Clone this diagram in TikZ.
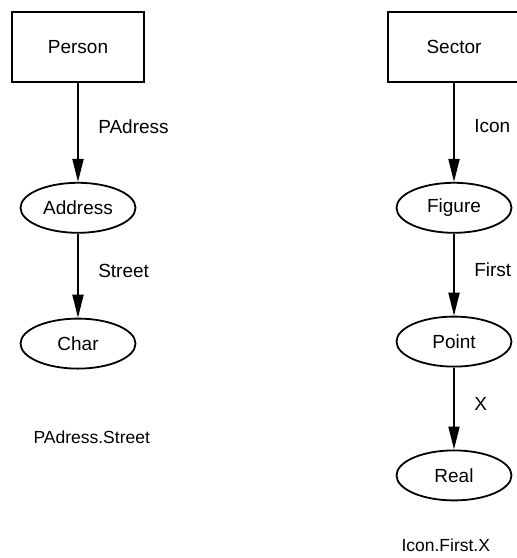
\documentclass[tikz,border=0pt]{standalone}
\usepackage{fontspec}
\setsansfont{Liberation Sans}
\usetikzlibrary{
  shapes.geometric,
  positioning,
  arrows.meta}
\tikzset{
  connection_arrow/.style={-{Triangle[length=23pt, width=11pt]}, line width=1.9pt}
}
\tikzset{
  %% classbox : the class that starts a path
  classbox/.style={
    rectangle,
    draw=black,
    line width=1.8pt,
    minimum width=132pt,
    minimum height=70pt,
    align=center
  },
  %% typenode : a type reached along the path
  typenode/.style={
    ellipse,
    draw=black,
    line width=1.8pt,
    minimum width=115pt,
    minimum height=50pt,
    inner sep=0pt,
    align=center
  },
  %% attrlabel : the attribute on a connection
  attrlabel/.style={
    anchor=west,
    xshift=13pt,
    pos=0.44
  },
  %% pathtext : the resulting path expression
  pathtext/.style={
    anchor=west,
    font=\fontsize{17.5}{20}\selectfont
  }
}

\begin{document}
\begin{tikzpicture}
  [x=1pt,
  y=-1pt,
  align=center]
  \sffamily
  \fontsize{19}{22}\selectfont

  \useasboundingbox (0, 0) rectangle (517, 558);

  %% Left path
  \node (person) [classbox] at (78, 47) {Person};

  \node (address) [below=99pt of person, typenode] {Address};

  \node (char) [below=84pt of address, typenode] {Char};

  \node (leftpath) [pathtext] at (27, 437) {PAdress.Street};

  %% Right path
  \node (sector) [classbox] at (454, 47) {Sector};

  \node (figure) [below=99pt of sector, typenode] {Figure};

  \node (point) [below=82pt of figure, typenode] {Point};

  \node (real) [below=82pt of point, typenode] {Real};

  \node (rightpath) [pathtext] at (395, 545) {Icon.First.X};

  %% Connections
  \draw [connection_arrow] (person) -- (address)
    node [attrlabel] {PAdress};
  \draw [connection_arrow] (address) -- (char)
    node [attrlabel] {Street};
  \draw [connection_arrow] (sector) -- (figure)
    node [attrlabel] {Icon};
  \draw [connection_arrow] (figure) -- (point)
    node [attrlabel] {First};
  \draw [connection_arrow] (point) -- (real)
    node [attrlabel, pos=0.45] {X};

\end{tikzpicture}
\end{document}
